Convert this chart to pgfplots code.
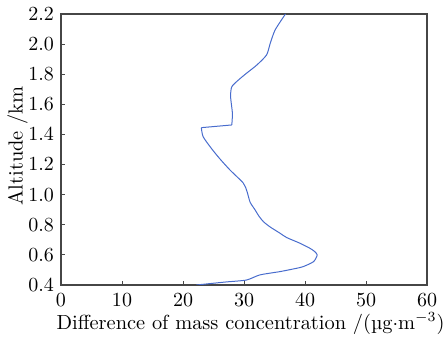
\documentclass[border=0pt]{standalone}
\usepackage{pgfplots}
\pgfplotsset{compat=1.18}
\definecolor{lineblue}{RGB}{72,108,205}
\definecolor{axgray}{RGB}{70,70,70}
\begin{document}
\begin{tikzpicture}
\begin{axis}[
  scale only axis,
  width=183pt, height=135.5pt,
  xmin=0, xmax=60, ymin=0.4, ymax=2.2,
  xtick={0,10,...,60},
  ytick={0.4,0.6,...,2.21},
  tick label style={font=\fontsize{10.2}{12}\selectfont},
  label style={font=\fontsize{10.2}{12}\selectfont},
  tick align=inside,
  major tick length=2pt,
  axis line style={axgray, line width=0.6pt},
  tick style={axgray, line width=0.5pt},
  xtick pos=bottom, ytick pos=left,
  xlabel={Difference of mass concentration /(µg$\cdot$m$^{-3}$)},
  ylabel={Altitude /km},
  xlabel style={at={(axis description cs:0.5178,-0.1624)}, anchor=base, inner sep=0pt},
  ylabel style={at={(axis description cs:-0.105,0.513)}, anchor=base, inner sep=0pt},
  xticklabel style={inner sep=0.5pt, yshift=-3.5pt},
  yticklabel style={/pgf/number format/.cd,fixed,fixed zerofill,precision=1},
  clip=true,
]
\coordinate (sw) at (rel axis cs:0,0);
\coordinate (ne) at (rel axis cs:1,1);
\addplot[lineblue, line width=0.5pt, smooth, tension=0.4] coordinates {
(22.2,0.40)
(27,0.42)
(30.4,0.433)
(32.6,0.467)
(35.9,0.489)
(38.5,0.51)
(39.7,0.522)
(41.4,0.555)
(42.0,0.600)
(41.5,0.625)
(40.8,0.644)
(39.2,0.677)
(37,0.715)
(35.9,0.744)
(34.3,0.785)
(33.2,0.82)
(32.4,0.86)
(31.8,0.9)
(31.0,0.95)
(30.5,1.02)
(29.9,1.076)
(27.7,1.164)
(26.0,1.24)
(24.6,1.31)
(23.3,1.385)
(23.0,1.445)
};
\addplot[lineblue, line width=0.5pt] coordinates {
(23.0,1.445)
(28.0,1.463)
};
\addplot[lineblue, line width=0.5pt, smooth, tension=0.4] coordinates {
(28.0,1.463)
(28.1,1.541)
(27.8,1.651)
(28.0,1.717)
(29.1,1.762)
(30.4,1.806)
(32.1,1.861)
(33.7,1.928)
(34.3,2.005)
(35.1,2.094)
(36.8,2.2)
};
\end{axis}
\pgfresetboundingbox
\path ([shift={(-30.5pt,-27.5pt)}]sw) rectangle ([shift={(9.5pt,7pt)}]ne);
\end{tikzpicture}
\end{document}
